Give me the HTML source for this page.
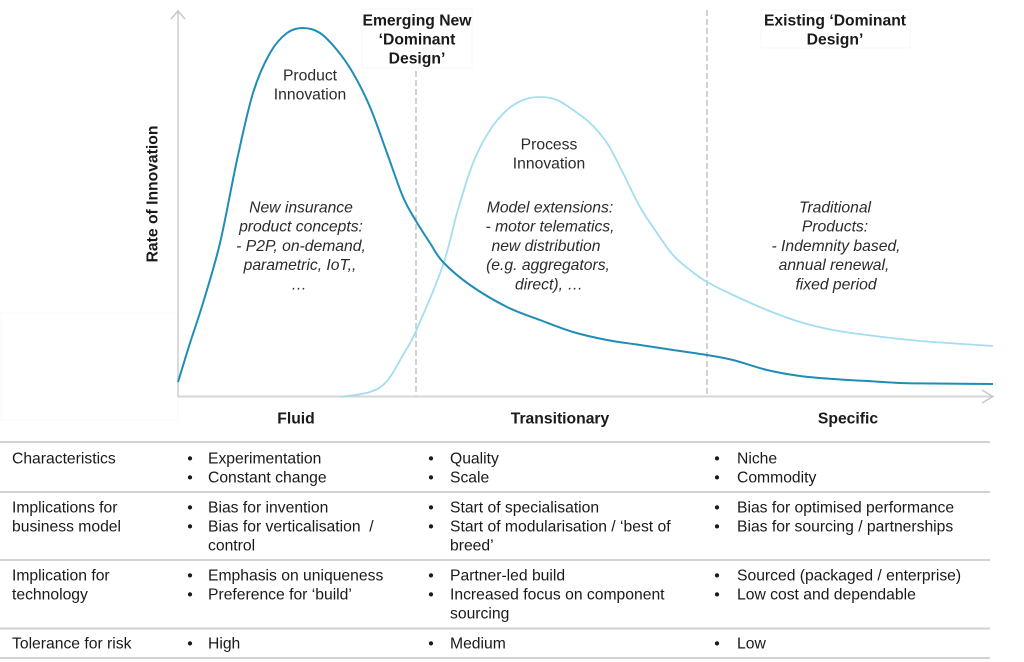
<!DOCTYPE html>
<html>
<head>
<meta charset="utf-8">
<style>
html,body{margin:0;padding:0;background:#fff;}
svg{display:block;}
text{font-family:"Liberation Sans",Arial,sans-serif;font-size:15.7px;fill:#1a1a1a;}
.b{font-weight:bold;}
.i{font-style:italic;}
.c{fill:#2b2b2b;}
</style>
</head>
<body>
<svg width="1024" height="662" viewBox="0 0 1024 662" xmlns="http://www.w3.org/2000/svg">
<!-- faint boxes -->
<rect x="362" y="9" width="110" height="59" fill="#fff" stroke="#f7f7f7" stroke-width="1"/>
<rect x="761" y="10" width="149" height="38" fill="#fff" stroke="#f7f7f7" stroke-width="1"/>
<rect x="1" y="313" width="177" height="107" fill="#fff" stroke="#f8f8f8" stroke-width="1"/>

<!-- dashed dividers -->
<line x1="416" y1="71" x2="416" y2="396" stroke="#c4c4c4" stroke-width="1.5" stroke-dasharray="6 3"/>
<line x1="707" y1="10" x2="707" y2="396" stroke="#c4c4c4" stroke-width="1.5" stroke-dasharray="6 3"/>

<!-- axes -->
<line x1="178" y1="10" x2="178" y2="397" stroke="#d0d0d0" stroke-width="1.6"/>
<polyline points="171,19 178,11 185,19" fill="none" stroke="#c8c8c8" stroke-width="1.5"/>
<line x1="178" y1="396.5" x2="993" y2="396.5" stroke="#d6d6d6" stroke-width="2"/>
<polyline points="982,390 993,396.5 982,403" fill="none" stroke="#c8c8c8" stroke-width="1.5"/>

<!-- process innovation curve (light) -->
<path fill="none" stroke="#a3def0" stroke-width="1.8" d="M340,397 C345,396.17 362.17,394.67 370,392 S381.5,387.17 387,381 S398.17,363.33 403,355 S409.33,346 416,331 S436.17,284.67 443,265 S452,230 457,213 S467.5,176.83 473,163 S484.33,138.83 490,130 S501.5,115 507,110 S517.5,102.17 523,100 S534.33,97 540,97 S551.5,97.83 557,100 S567.5,106.17 573,110 S584.33,117.5 590,123 S601.5,134.67 607,143 S617.5,162.33 623,173 S634.33,197 640,207 S651.5,225 657,233 S667.5,248.83 673,255 S684.33,265.5 690,270 S699.83,277.83 707,282 S723,290.33 733,295 S755.83,305.5 767,310 S789,318.67 800,322 S821.83,327.83 833,330 S855.83,333.5 867,335 S889,337.83 900,339 S917.5,340.83 933,342 S983,345.33 993,346"/>

<!-- product innovation curve (dark) -->
<path fill="none" stroke="#1f8db6" stroke-width="2" d="M178,382 C180,375.5 185.83,356.17 190,343 S198,319.67 203,303 S214.33,266.83 220,243 S231.5,185 237,160 S247.5,110.83 253,93 S264.33,63 270,53 S281.5,37.17 287,33 S297.5,28 303,28 S314.33,29.33 320,33 S331.5,43.33 337,50 S347.5,63.5 353,73 S364.33,93.67 370,107 S381.5,138 387,153 S398.17,185.67 403,197 S411.5,213.33 416,221 S425.5,236.17 430,243 S436.33,255 443,262 S459.33,277.5 470,285 S495.33,301.17 507,307 S529,315.83 540,320 S561.83,328.67 573,332 S595.83,337.83 607,340 S629,343.33 640,345 S661.83,348.33 673,350 S697,353.33 707,355 S723,357.5 733,360 S755.83,367.33 767,370 S789,374.5 800,376 S821.83,378.17 833,379 S855.83,380.33 867,381 S889,382.58 900,383 S917.5,383.33 933,383.5 S983,383.92 993,384"/>

<!-- headers -->
<g class="b" text-anchor="middle">
<text x="417" y="25.6" class="b">Emerging New</text>
<text x="417" y="44.6" class="b">‘Dominant</text>
<text x="417" y="63.6" class="b">Design’</text>
<text x="835" y="25.6" class="b">Existing ‘Dominant</text>
<text x="835" y="44.6" class="b">Design’</text>
</g>

<!-- curve labels -->
<g text-anchor="middle">
<text x="310" y="80.6" class="c">Product</text>
<text x="310" y="99.6" class="c">Innovation</text>
<text x="549" y="149.6" class="c">Process</text>
<text x="549" y="168.6" class="c">Innovation</text>

<text x="301" y="212.5" class="i c">New insurance</text>
<text x="301" y="231.7" class="i c">product concepts:</text>
<text x="301" y="250.9" class="i c">- P2P, on-demand,</text>
<text x="300" y="270.1" class="i c">parametric, IoT,,</text>
<text x="299" y="289.3" class="i c">…</text>

<text x="550" y="212.5" class="i c">Model extensions:</text>
<text x="550" y="231.7" class="i c">- motor telematics,</text>
<text x="546" y="250.9" class="i c">new distribution</text>
<text x="548" y="270.1" class="i c">(e.g. aggregators,</text>
<text x="549" y="289.3" class="i c">direct), …</text>

<text x="835" y="212.5" class="i c">Traditional</text>
<text x="835" y="231.7" class="i c">Products:</text>
<text x="836" y="250.9" class="i c">- Indemnity based,</text>
<text x="834" y="270.1" class="i c">annual renewal,</text>
<text x="836" y="289.3" class="i c">fixed period</text>
</g>

<!-- axis labels -->
<text class="b" text-anchor="middle" transform="translate(157.6,194) rotate(-90)">Rate of Innovation</text>
<g text-anchor="middle">
<text x="296" y="423.6" class="b">Fluid</text>
<text x="560" y="423.6" class="b">Transitionary</text>
<text x="848" y="423.6" class="b">Specific</text>
</g>

<!-- table lines -->
<g stroke="#d2d2d2" stroke-width="2">
<line x1="0" y1="442" x2="990" y2="442"/>
<line x1="0" y1="492" x2="990" y2="492"/>
<line x1="0" y1="560" x2="990" y2="560"/>
<line x1="0" y1="628.5" x2="990" y2="628.5"/>
<line x1="0" y1="658" x2="990" y2="658"/>
</g>

<!-- table text -->
<g>
<text x="12" y="463.6">Characteristics</text>
<text x="12" y="512.6">Implications for</text>
<text x="12" y="531.6">business model</text>
<text x="12" y="580.6">Implication for</text>
<text x="12" y="599.6">technology</text>
<text x="12" y="648.6">Tolerance for risk</text>

<!-- col 1 -->
<text x="190" y="463.6" text-anchor="middle">•</text><text x="208" y="463.6">Experimentation</text>
<text x="190" y="482.6" text-anchor="middle">•</text><text x="208" y="482.6">Constant change</text>
<text x="190" y="512.6" text-anchor="middle">•</text><text x="208" y="512.6">Bias for invention</text>
<text x="190" y="531.6" text-anchor="middle">•</text><text x="208" y="531.6" xml:space="preserve">Bias for verticalisation  /</text>
<text x="208" y="550.6">control</text>
<text x="190" y="580.6" text-anchor="middle">•</text><text x="208" y="580.6">Emphasis on uniqueness</text>
<text x="190" y="599.6" text-anchor="middle">•</text><text x="208" y="599.6">Preference for ‘build’</text>
<text x="190" y="648.6" text-anchor="middle">•</text><text x="208" y="648.6">High</text>

<!-- col 2 -->
<text x="431" y="463.6" text-anchor="middle">•</text><text x="450" y="463.6">Quality</text>
<text x="431" y="482.6" text-anchor="middle">•</text><text x="450" y="482.6">Scale</text>
<text x="431" y="512.6" text-anchor="middle">•</text><text x="450" y="512.6">Start of specialisation</text>
<text x="431" y="531.6" text-anchor="middle">•</text><text x="450" y="531.6">Start of modularisation / ‘best of</text>
<text x="450" y="550.6">breed’</text>
<text x="431" y="580.6" text-anchor="middle">•</text><text x="450" y="580.6">Partner-led build</text>
<text x="431" y="599.6" text-anchor="middle">•</text><text x="450" y="599.6">Increased focus on component</text>
<text x="450" y="618.6">sourcing</text>
<text x="431" y="648.6" text-anchor="middle">•</text><text x="450" y="648.6">Medium</text>

<!-- col 3 -->
<text x="717" y="463.6" text-anchor="middle">•</text><text x="737" y="463.6">Niche</text>
<text x="717" y="482.6" text-anchor="middle">•</text><text x="737" y="482.6">Commodity</text>
<text x="717" y="512.6" text-anchor="middle">•</text><text x="737" y="512.6">Bias for optimised performance</text>
<text x="717" y="531.6" text-anchor="middle">•</text><text x="737" y="531.6">Bias for sourcing / partnerships</text>
<text x="717" y="580.6" text-anchor="middle">•</text><text x="737" y="580.6">Sourced (packaged / enterprise)</text>
<text x="717" y="599.6" text-anchor="middle">•</text><text x="737" y="599.6">Low cost and dependable</text>
<text x="717" y="648.6" text-anchor="middle">•</text><text x="737" y="648.6">Low</text>
</g>
</svg>
</body>
</html>
